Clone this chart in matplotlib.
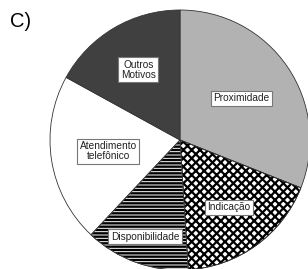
import numpy as np
import matplotlib
matplotlib.use('Agg')
import matplotlib.pyplot as plt
from matplotlib.patches import Wedge

# Data (share of each reason, %)
labels = ['Proximidade', 'Indicação', 'Disponibilidade', 'Atendimento\ntelefônico', 'Outros\nMotivos']
values = [31, 18, 13, 21, 17]
colors = ['#b2b2b2', 'white', 'black', 'white', '#404040']
hatches = [None, 'xxxx', '-----', None, None]
hatch_lw = [0, 1.6, 0.7, 0, 0]
label_radius = [0.57, 0.64, 0.79, 0.56, 0.63]

plt.rcParams['font.family'] = ['Liberation Sans', 'DejaVu Sans']

fig = plt.figure(figsize=(3.08, 2.69), dpi=100)
ax = fig.add_axes([0, 0, 1, 1])

wedges, _ = ax.pie(values, colors=colors, startangle=90, counterclock=False,
                   radius=1.0, center=(0, 0),
                   wedgeprops=dict(edgecolor='#333333', linewidth=0.6))

# pattern fills drawn on top of the base colours
for w, h, lw in zip(wedges, hatches, hatch_lw):
    if h is None:
        continue
    hc = 'white' if w.get_facecolor()[0] < 0.5 else 'black'
    with plt.rc_context({'hatch.linewidth': lw}):
        p = Wedge(w.center, w.r, w.theta1, w.theta2, facecolor='none',
                  edgecolor=hc, hatch=h, linewidth=0)
    ax.add_patch(p)
    o = Wedge(w.center, w.r, w.theta1, w.theta2, facecolor='none',
              edgecolor='#333333', linewidth=0.6)
    ax.add_patch(o)

for w, lab, r in zip(wedges, labels, label_radius):
    mid = np.deg2rad((w.theta1 + w.theta2) / 2)
    ax.text(r * np.cos(mid), r * np.sin(mid), lab, ha='center', va='center',
            fontsize=7.3, color='#222222', linespacing=1.0,
            bbox=dict(boxstyle='square,pad=0.25', facecolor='white',
                      edgecolor='#777777', linewidth=0.8))

ax.text(-1.23, 0.91, 'C)', fontsize=14.5, ha='center', va='center')

ax.set_xlim(-180 / 130, 128 / 130)
ax.set_ylim(-129 / 130, 140 / 130)
ax.axis('off')

fig.savefig('out.png', dpi=100)
